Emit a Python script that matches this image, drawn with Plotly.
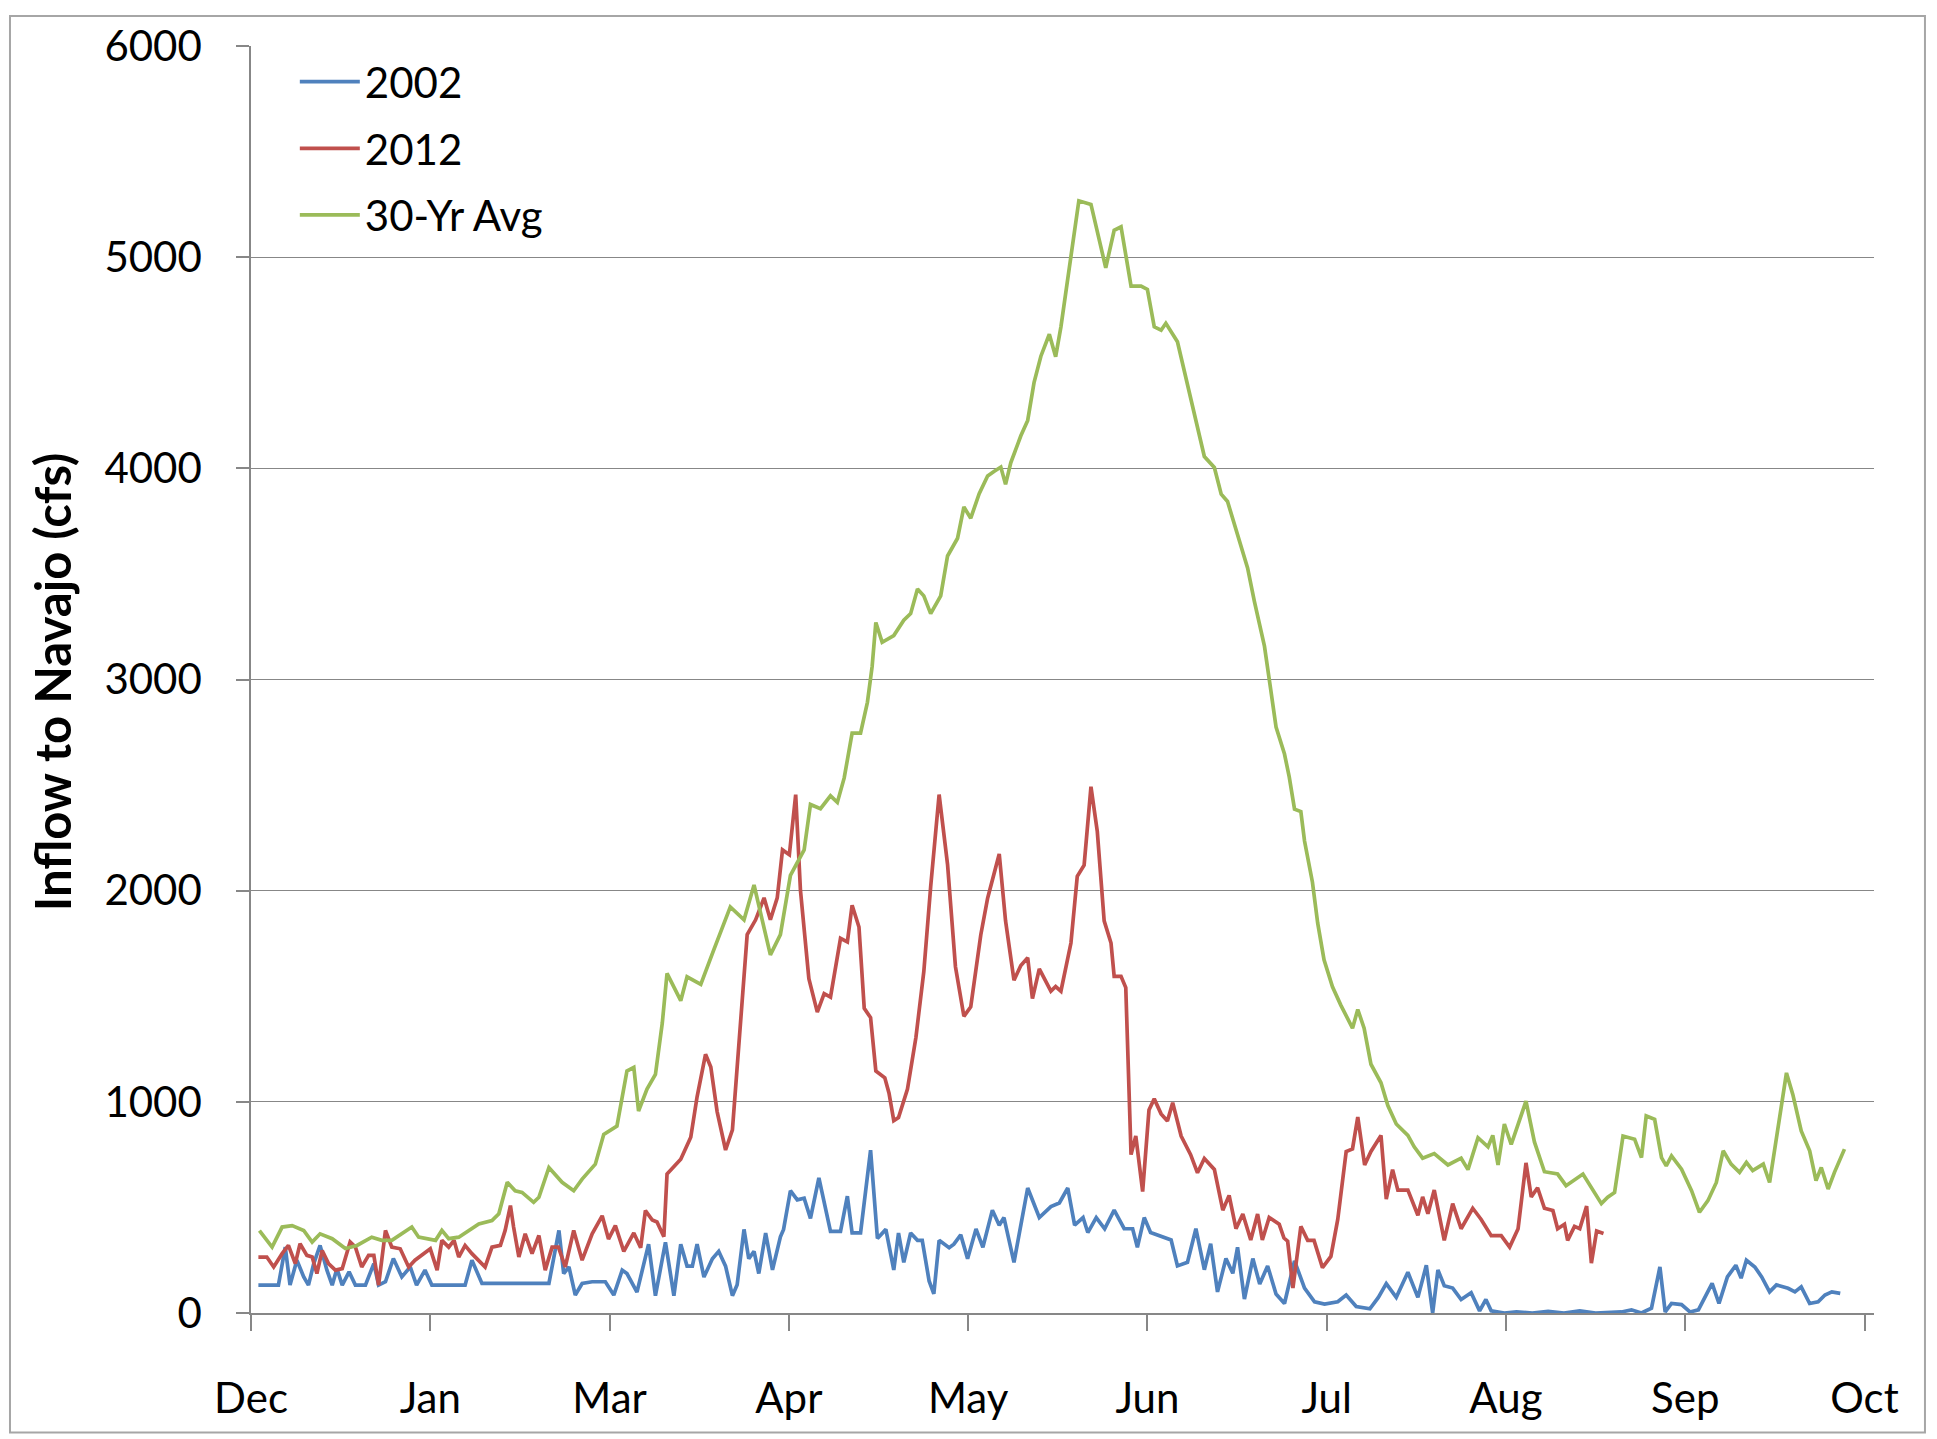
import plotly.graph_objects as go

# ---- tick labels (category-like month labels at equal spacing) ----
tick_days = [0, 34, 68, 102, 136, 170, 204, 238, 272, 306]
tick_labels = ["Dec", "Jan", "Mar", "Apr", "May", "Jun", "Jul", "Aug", "Sep", "Oct"]

# ---- 30-Yr Avg (day index, cfs) ----
avg_day = [1.6, 4.0, 5.9, 7.8, 10.0, 11.6, 13.1, 15.4, 17.9, 20.1, 22.9, 24.8, 26.7, 28.6, 30.5, 31.8,
           33.4, 35.0, 36.2, 37.5, 39.4, 41.3, 43.2, 45.7, 47.0, 48.6, 50.1, 51.4, 53.6, 54.6, 56.5, 59.0,
           61.2, 62.8, 65.3, 66.9, 69.4, 71.3, 72.6, 73.5, 75.1, 76.7, 78.0, 78.9, 81.5, 82.7, 85.3, 87.8,
           90.9, 93.5, 95.4, 98.5, 100.4, 102.3, 104.9, 106.1, 108.0, 109.9, 111.2, 112.5, 114.0, 115.6,
           116.9, 117.8, 118.5, 119.7, 121.9, 123.8, 125.1, 126.4, 127.6, 128.9, 130.8, 132.1, 134.0, 135.2,
           136.5, 138.1, 139.7, 140.9, 142.2, 143.1, 144.1, 146.0, 147.3, 148.5, 149.8, 151.4, 152.6, 153.6,
           155.5, 157.0, 159.3, 160.5, 162.1, 163.7, 165.0, 166.9, 168.8, 170.0, 171.3, 172.6, 173.5, 175.7,
           177.0, 178.9, 180.8, 182.7, 184.0, 185.2, 187.1, 189.0, 190.3, 192.2, 193.4, 194.4, 196.0, 196.9,
           197.9, 199.1, 199.8, 201.3, 202.3, 203.5, 205.1, 206.7, 208.9, 209.9, 211.1, 212.4, 214.3, 215.6,
           217.2, 219.4, 220.6, 222.2, 224.4, 227.0, 229.5, 230.8, 232.7, 234.6, 235.5, 236.5, 237.7, 239.0,
           241.8, 243.4, 245.3, 247.8, 249.4, 252.6, 256.1, 257.3, 258.6, 260.2, 262.4, 263.7, 264.6, 266.2,
           267.5, 268.4, 269.4, 271.3, 273.2, 274.7, 276.3, 277.9, 279.2, 280.7, 282.3, 283.6, 284.8, 286.8,
           288.0, 289.6, 291.2, 292.4, 294.0, 295.6, 296.8, 297.8, 299.1, 300.3, 302.2]
avg_cfs = [390, 312, 407, 414, 391, 336, 375, 352, 305, 320, 359, 344, 344, 375, 407, 359,
           352, 344, 391, 352, 359, 391, 422, 438, 470, 619, 579, 571, 524, 548, 689, 619,
           579, 634, 705, 846, 885, 1146, 1163, 956, 1060, 1130, 1373, 1608, 1479, 1592, 1556, 1722,
           1923, 1862, 2027, 1696, 1792, 2072, 2193, 2408, 2388, 2449, 2418, 2534, 2746, 2746,
           2892, 3062, 3270, 3176, 3208, 3281, 3312, 3429, 3396, 3312, 3396, 3585, 3669, 3817,
           3764, 3880, 3964, 3985, 4006, 3924, 4027, 4154, 4227, 4406, 4531, 4635, 4529, 4670,
           5021, 5267, 5250, 5127, 4950, 5127, 5144, 4863, 4863, 4847, 4670, 4654, 4687, 4599,
           4459, 4249, 4056, 4004, 3878, 3843, 3685, 3528, 3369, 3158, 2950, 2775, 2647, 2539,
           2386, 2375, 2235, 2040, 1846, 1673, 1545, 1457, 1349, 1437, 1349, 1178, 1090, 982,
           895, 841, 787, 733, 755, 701, 733, 679, 830, 787, 841, 701, 895, 798,
           1003, 810, 669, 658, 603, 658, 518, 548, 571, 838, 823, 736, 933, 917,
           736, 697, 744, 681, 579, 477, 532, 618, 768, 705, 666, 713, 674, 705,
           618, 878, 1137, 1035, 862, 768, 627, 689, 587, 666, 776]

# ---- 2012 ----
y2012_day = [1.4, 3.0, 4.3, 5.9, 7.1, 8.4, 9.3, 10.6, 11.6, 12.5, 13.5, 14.7, 16.0, 17.3, 18.8, 19.8,
             21.0, 22.3, 23.3, 24.2, 25.5, 26.7, 28.3, 29.9, 31.1, 32.7, 34.0, 35.3, 36.2, 37.5, 38.5,
             39.4, 40.6, 41.9, 43.2, 44.4, 45.7, 47.3, 48.2, 49.2, 49.8, 50.8, 52.0, 53.3, 54.6, 55.8,
             57.1, 58.3, 59.6, 61.2, 62.8, 64.7, 66.6, 67.8, 69.1, 70.7, 72.6, 73.9, 74.8, 76.1, 77.0,
             78.3, 78.9, 81.5, 83.4, 84.6, 86.2, 87.2, 88.4, 90.0, 91.3, 92.5, 94.1, 95.7, 97.3, 98.5,
             99.8, 100.8, 102.1, 103.3, 104.2, 105.8, 107.4, 108.7, 109.9, 111.8, 113.1, 114.0, 115.3,
             116.3, 117.5, 118.5, 120.2, 121.0, 121.9, 122.8, 124.5, 126.1, 127.6, 128.9, 130.5, 132.1,
             133.6, 135.2, 136.5, 138.4, 139.7, 141.9, 143.1, 144.7, 146.0, 147.3, 148.2, 149.5, 151.7,
             152.6, 153.6, 155.5, 156.7, 158.0, 159.3, 160.5, 161.8, 163.1, 163.7, 165.0, 165.9, 166.9,
             167.8, 169.1, 170.3, 171.3, 172.6, 173.8, 174.8, 176.4, 178.2, 179.5, 180.8, 182.7, 184.3,
             185.5, 186.8, 188.1, 189.6, 190.9, 191.8, 193.1, 195.0, 195.9, 196.6, 197.6, 199.1, 200.4,
             201.6, 203.2, 204.8, 206.1, 207.7, 208.9, 209.9, 211.2, 212.4, 214.3, 215.3, 216.5, 217.5,
             219.4, 221.3, 222.2, 223.2, 224.4, 226.3, 227.9, 229.5, 231.7, 233.3, 235.2, 237.1, 238.7,
             240.3, 241.8, 242.8, 244.0, 245.3, 246.9, 247.8, 249.1, 249.7, 251.0, 252.0, 253.3, 254.2,
             255.2, 256.5]
y2012_cfs = [265, 265, 218, 281, 320, 234, 328, 273, 265, 187, 296, 234, 203, 210, 336, 312,
             218, 273, 273, 132, 391, 312, 304, 218, 250, 281, 304, 203, 344, 312, 344,
             265, 320, 281, 250, 218, 312, 320, 391, 509, 407, 265, 375, 281, 367, 203,
             312, 312, 218, 391, 250, 375, 460, 350, 414, 292, 379, 309, 485, 440, 431,
             361, 658, 728, 832, 1024, 1225, 1165, 954, 772, 867, 1268, 1792, 1862, 1966, 1862,
             1966, 2193, 2170, 2455, 2002, 1583, 1425, 1512, 1496, 1774, 1757, 1931, 1828,
             1443, 1399, 1146, 1114, 1041, 911, 926, 1060, 1305, 1617, 2019, 2455, 2124,
             1640, 1405, 1450, 1790, 1964, 2174, 1857, 1576, 1646, 1682, 1489, 1630, 1524,
             1546, 1524, 1752, 2068, 2121, 2492, 2280, 1857, 1752, 1594, 1594, 1541, 750,
             838, 575, 961, 1014, 943, 909, 996, 838, 750, 664, 732, 680, 487,
             557, 399, 469, 346, 469, 346, 452, 420, 355, 340, 118, 410, 344,
             344, 215, 268, 443, 765, 777, 928, 701, 765, 841, 539, 679, 582,
             582, 463, 550, 470, 582, 344, 518, 399, 496, 443, 366, 366, 312,
             399, 711, 550, 593, 496, 485, 399, 420, 344, 410, 399, 506, 236,
             388, 377]

# ---- 2002 ----
y2002_day = [1.4, 5.2, 6.5, 7.4, 8.7, 10.0, 10.9, 11.9, 13.1, 14.4, 15.4, 16.3, 17.3, 18.6, 19.8, 21.7,
             23.3, 24.2, 25.5, 27.0, 28.6, 30.2, 31.4, 33.0, 34.3, 40.6, 41.9, 43.8, 56.5, 57.4, 58.4,
             59.3, 60.3, 61.5, 62.8, 64.7, 67.2, 68.8, 70.4, 71.3, 73.2, 75.4, 76.7, 78.6, 80.2, 81.5,
             82.7, 83.7, 84.6, 85.9, 87.5, 88.7, 90.0, 91.3, 92.2, 93.5, 94.4, 95.4, 96.3, 97.6, 98.9,
             100.4, 101.0, 102.3, 103.6, 104.9, 106.1, 107.7, 109.9, 111.8, 113.1, 114.0, 115.6, 117.5,
             118.8, 120.4, 121.9, 122.8, 123.8, 125.1, 126.4, 127.3, 128.6, 129.5, 130.5, 132.4, 133.3,
             134.6, 135.9, 137.5, 138.8, 140.6, 141.9, 142.8, 144.7, 146.0, 147.3, 149.5, 151.7, 153.3,
             154.9, 156.2, 157.8, 158.7, 160.3, 161.9, 163.7, 165.6, 167.2, 168.1, 169.4, 170.6, 172.6,
             174.5, 175.7, 177.6, 179.2, 180.8, 182.0, 183.3, 184.9, 186.2, 187.1, 188.4, 190.0, 191.3,
             192.8, 194.4, 196.0, 197.9, 199.8, 201.7, 203.6, 206.1, 207.7, 209.6, 212.2, 213.8, 215.3,
             217.2, 219.4, 221.3, 222.9, 224.1, 225.1, 226.3, 227.9, 229.5, 231.4, 233.0, 234.2, 235.2,
             237.7, 240.0, 243.0, 246.0, 249.0, 252.0, 255.0, 259.9, 261.8, 263.7, 265.6, 267.2, 268.2,
             269.4, 271.3, 272.9, 274.5, 277.1, 278.4, 280.0, 281.6, 282.6, 283.6, 285.2, 286.5, 288.0,
             289.3, 291.5, 292.8, 294.0, 295.6, 297.2, 298.5, 299.8, 301.4]
y2002_cfs = [132, 132, 312, 132, 250, 171, 132, 234, 320, 203, 132, 210, 132, 195, 132, 132,
             234, 132, 148, 258, 171, 218, 132, 203, 132, 132, 250, 140, 140, 250, 391,
             187, 218, 85, 140, 148, 148, 85, 203, 187, 99, 326, 82, 335, 82, 326,
             222, 222, 326, 170, 257, 292, 222, 82, 134, 396, 257, 292, 187, 379, 204,
             361, 396, 579, 536, 544, 448, 640, 387, 387, 553, 379, 379, 771,
             353, 396, 204, 379, 240, 379, 344, 344, 152, 91, 344, 309, 326,
             370, 257, 398, 311, 487, 416, 452, 240, 416, 592, 452, 504, 521,
             592, 416, 452, 381, 452, 399, 487, 399, 399, 311, 452, 381, 363,
             346, 223, 240, 399, 205, 328, 100, 258, 188, 311, 66, 258, 137,
             223, 90, 45, 247, 118, 53, 42, 53, 85, 31, 20, 74, 139,
             74, 193, 74, 226, 0, 204, 129, 118, 64, 96, 10, 64, 10,
             0, 5, 0, 8, 0, 10, 0, 5, 15, 0, 23, 218, 5,
             45, 40, 5, 15, 140, 45, 171, 226, 165, 250, 218, 171, 100,
             133, 117, 100, 124, 45, 53, 85, 100, 93]

BLUE = "#4f81bd"
RED = "#c0504d"
GREEN = "#9bbb59"
GRID = "#878787"
FONT = "Lato"
LW = 3.7

fig = go.Figure()
fig.add_trace(go.Scatter(x=y2002_day, y=y2002_cfs, mode="lines", name="2002",
                         line=dict(color=BLUE, width=LW), legendgroup="a"))
fig.add_trace(go.Scatter(x=y2012_day, y=y2012_cfs, mode="lines", name="2012",
                         line=dict(color=RED, width=LW), legendgroup="b"))
fig.add_trace(go.Scatter(x=avg_day, y=avg_cfs, mode="lines", name="30-Yr Avg",
                         line=dict(color=GREEN, width=LW), legendgroup="c"))

fig.update_layout(
    width=1937, height=1439,
    margin=dict(l=243, r=71, t=32, b=134),
    paper_bgcolor="white", plot_bgcolor="white",
    font=dict(family=FONT, size=42, color="black"),
    showlegend=True,
    legend=dict(x=0.027, y=0.9985, xanchor="left", yanchor="top",
                bgcolor="rgba(0,0,0,0)", font=dict(family=FONT, size=42, color="black"),
                tracegroupgap=9, itemwidth=60),
    xaxis=dict(range=[0, 307.8], tickmode="array", tickvals=tick_days, ticktext=tick_labels,
               showgrid=False, zeroline=False, showline=True, linecolor=GRID, linewidth=1.5,
               ticks="outside", ticklen=16, tickcolor=GRID, tickwidth=1.5,
               ticklabelstandoff=32, tickfont=dict(family=FONT, size=42, color="black")),
    yaxis=dict(range=[0, 6000], tickvals=[0, 1000, 2000, 3000, 4000, 5000, 6000],
               showgrid=True, gridcolor=GRID, gridwidth=1.2, zeroline=False,
               showline=True, linecolor=GRID, linewidth=1.5,
               ticks="outside", ticklen=13, tickcolor=GRID, tickwidth=1.5,
               ticklabelstandoff=26, tickfont=dict(family=FONT, size=42, color="black")),
    annotations=[dict(text="<b>Inflow to Navajo (cfs)</b>", textangle=-90,
                      xref="paper", yref="paper", x=-0.1225, y=0.498,
                      xanchor="center", yanchor="middle", showarrow=False,
                      font=dict(family=FONT, size=49, color="black"))],
    shapes=[dict(type="rect", xref="paper", yref="paper",
                 x0=-0.1485, x1=1.0314, y0=-0.0943, y1=1.0236,
                 line=dict(color="#a6a6a6", width=2), fillcolor="rgba(0,0,0,0)", layer="below")],
)

fig.write_html("out.html")
